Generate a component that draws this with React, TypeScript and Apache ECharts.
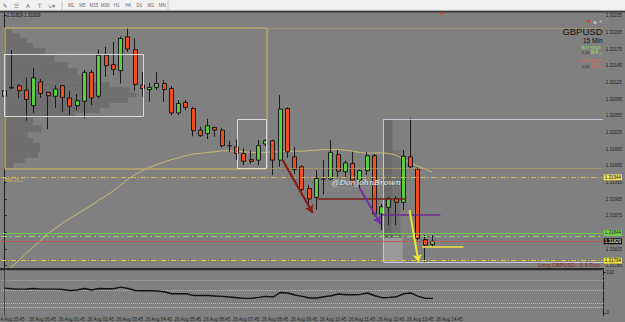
import React, { useEffect, useRef } from "react";
import * as echarts from "echarts";

const FONT = "'Liberation Sans', Arial, sans-serif";

// 15-minute bars of 26 Aug (00:00 .. 20:30; bars after 14:45 are chart shift)
const barTimes = [
  "00:00","00:15","00:30","00:45","01:00","01:15","01:30","01:45","02:00","02:15","02:30","02:45",
  "03:00","03:15","03:30","03:45","04:00","04:15","04:30","04:45","05:00","05:15","05:30","05:45",
  "06:00","06:15","06:30","06:45","07:00","07:15","07:30","07:45","08:00","08:15","08:30","08:45",
  "09:00","09:15","09:30","09:45","10:00","10:15","10:30","10:45","11:00","11:15","11:30","11:45",
  "12:00","12:15","12:30","12:45","13:00","13:15","13:30","13:45","14:00","14:15","14:30","14:45",
  "15:00","15:15","15:30","15:45","16:00","16:15","16:30","16:45","17:00","17:15","17:30","17:45",
  "18:00","18:15","18:30","18:45","19:00","19:15","19:30","19:45","20:00","20:15","20:30"
];
const timeLabels = ["00:45","01:45","02:45","03:45","04:45","05:45","06:45","07:45","08:45","09:45","10:45","11:45","12:45","13:45","14:45"];

const openP = [1.32090,1.32106,1.32109,1.32101,1.32073,1.32116,1.32097,1.32090,1.32109,1.32087,
1.32073,1.32081,1.32133,1.32090,1.32164,1.32147,1.32136,1.32197,1.32174,1.32110,
1.32102,1.32106,1.32113,1.32104,1.32060,1.32079,1.32068,1.32029,1.32023,1.32034,
1.32029,1.32001,1.31999,1.31987,1.31976,1.31975,1.32004,1.32010,1.31975,1.32068,
1.31981,1.31963,1.31924,1.31908,1.31941,1.31941,1.31985,1.31954,1.31969,1.31939,
1.31956,1.31983,1.31878,1.31890,1.31906,1.31899,1.31981,1.31959,1.31832,1.31823];
const closeP = [1.32100,1.32105,1.32100,1.32084,1.32123,1.32095,1.32091,1.32103,1.32088,1.32072,
1.32082,1.32133,1.32087,1.32164,1.32145,1.32138,1.32194,1.32175,1.32111,1.32104,
1.32106,1.32113,1.32102,1.32060,1.32077,1.32070,1.32028,1.32019,1.32037,1.32029,
1.32001,1.32001,1.31987,1.31973,1.31973,1.32001,1.32010,1.31975,1.32067,1.31990,
1.31958,1.31922,1.31905,1.31942,1.31941,1.31989,1.31955,1.31970,1.31939,1.31956,
1.31983,1.31878,1.31891,1.31906,1.31899,1.31982,1.31963,1.31834,1.31822,1.31829];
const lowP = [1.32088,1.32103,1.32087,1.32046,1.32060,1.32087,1.32031,1.32069,1.32062,1.32056,
1.32065,1.32050,1.32074,1.32086,1.32125,1.32128,1.32113,1.32170,1.32100,1.32089,
1.32080,1.32101,1.32080,1.32056,1.32056,1.32065,1.32018,1.32017,1.32013,1.32017,
1.31998,1.31990,1.31975,1.31966,1.31969,1.31966,1.32000,1.31948,1.31963,1.31979,
1.31950,1.31912,1.31894,1.31885,1.31913,1.31939,1.31945,1.31944,1.31930,1.31924,
1.31948,1.31874,1.31849,1.31858,1.31858,1.31885,1.31961,1.31831,1.31792,1.31819];
const highP = [1.32103,1.32173,1.32112,1.32124,1.32141,1.32121,1.32098,1.32110,1.32110,1.32099,
1.32094,1.32137,1.32137,1.32174,1.32179,1.32188,1.32198,1.32214,1.32194,1.32134,
1.32114,1.32134,1.32119,1.32108,1.32083,1.32083,1.32071,1.32035,1.32049,1.32035,
1.32033,1.32010,1.32012,1.31996,1.31992,1.32011,1.32013,1.32012,1.32092,1.32070,
1.31999,1.31966,1.31930,1.31957,1.31975,1.32011,1.31993,1.31974,1.31990,1.31958,
1.31990,1.31986,1.31896,1.31909,1.31910,1.31993,1.32051,1.31962,1.31840,1.31840];

const maP = [1.31772,1.31783,1.31795,1.31808,1.31819,1.31831,1.31843,1.31852,1.31862,1.31870,
1.31878,1.31886,1.31894,1.31903,1.31911,1.31920,1.31930,1.31941,1.31949,1.31956,
1.31962,1.31967,1.31972,1.31976,1.31979,1.31983,1.31986,1.31987,1.31989,1.31990,
1.31992,1.31992,1.31991,1.31990,1.31989,1.31989,1.31989,1.31990,1.31990,1.31991,
1.31991,1.31991,1.31992,1.31993,1.31994,1.31994,1.31994,1.31993,1.31991,1.31989,
1.31988,1.31988,1.31988,1.31987,1.31984,1.31977,1.31970,1.31964,1.31959,1.31953];

const oscV = [61.6,59.9,59.1,59.4,60.6,59.1,59.1,59.1,58.1,55.7,
56.7,60.6,56.7,60.6,59.9,59.9,64.0,60.6,55.7,54.9,
54.9,54.2,52.5,47.5,47.5,47.5,43.3,43.3,43.3,41.9,
40.9,39.4,37.7,36.0,36.0,38.4,40.9,39.4,50.7,49.3,
44.3,40.9,36.9,36.9,40.1,42.6,46.8,45.1,45.1,45.8,
49.3,42.6,37.7,38.4,40.1,47.5,49.3,40.9,36.0,36.0];

const priceTicks = [1.31785,1.31815,1.31845,1.31875,1.31905,1.31935,1.31965,1.31995,1.32025,1.32055,1.32085,1.32115,1.32145,1.32175,1.32205,1.32235];
const oscTicks = [0, 100];
const oscLevels = [90, 80, 57, 23, 13];

// session volume profile: [priceTop, priceBottom, widthInBars]
const sessionProfile = [
  [1.32213,1.32204,1.0],[1.32204,1.32195,2.1],[1.32195,1.32186,3.1],[1.32186,1.32177,3.9],
  [1.32177,1.32164,5.6],[1.32164,1.32151,6.9],[1.32151,1.32141,8.7],[1.32141,1.32128,10.1],
  [1.32128,1.32115,12.0],[1.32115,1.32106,14.5],[1.32106,1.32097,17.3],[1.32097,1.32088,18.2],
  [1.32088,1.32078,17.0],[1.32078,1.32069,14.5],[1.32069,1.32060,13.1],[1.32060,1.32052,9.7],
  [1.32052,1.32038,3.9],[1.32038,1.32025,5.1],[1.32025,1.32015,3.2],[1.32015,1.32006,3.9],
  [1.32006,1.31989,4.9],[1.31989,1.31979,4.6],[1.31979,1.31970,2.8],[1.31970,1.31961,1.2]
];
// range-box profile: [fromBar, toBar, priceTop, priceBottom]
const boxProfileDark = [[52.26,53.5,1.32049,1.31835]];
const boxProfileMid = [[53.5,54.6,1.31993,1.31835]];
const boxProfileLight = [[52.26,54.9,1.31835,1.31791]];

const session = { from: 0, to: 36.1, high: 1.32213, low: 1.31960 };
const valueArea1 = { from: 0, to: 19.1, top: 1.32166, bottom: 1.32054 };
const valueArea2 = { from: 32.1, to: 36.1, top: 1.32048, bottom: 1.31960 };
const rangeBox = { from: 52.26, top: 1.32049, bottom: 1.31791 };
const maroonLevel = { from: 43.2, to: 55.2, price: 1.31906 };
const purpleLevel = { from: 52.1, to: 60.1, price: 1.31876 };
const targetLevel = { from: 57.6, to: 63.3, price: 1.31819 };
const pivotPrice = 1.31944;
const askPrice = 1.31844;
const askBandPrice = 1.31838;
const bidPrice = 1.31829;
const lowLevelPrice = 1.31794;
const arrow1 = [[38.35, 1.31975], [42.5, 1.31880]];
const arrow2 = [[48.96, 1.31925], [51.85, 1.31860]];
const arrow3 = [[55.85, 1.31885], [57.1, 1.31791]];
const notes = [
  { name: "1", value: [43.2, 1.31883] },
  { name: "2", value: [49.2, 1.31867] },
  { name: "3", value: [55.3, 1.31804] },
  { name: "14.8", value: [60.9, 1.31822] },
];

const START = -0.5;
const END = 82.5;
const GREEN = "#5acd3c";
const RED = "#f24d1c";
const OLIVE = "#b9a96a";

function hseg(from: number, to: number, p: number, ls: any) {
  return [{ coord: [from, p], lineStyle: ls }, { coord: [to, p] }];
}
function vseg(x: number, p0: number, p1: number, ls: any) {
  return [{ coord: [x, p0], lineStyle: ls }, { coord: [x, p1] }];
}
function box(from: number, to: number, top: number, bottom: number, ls: any) {
  return [hseg(from, to, top, ls), hseg(from, to, bottom, ls), vseg(from, top, bottom, ls), vseg(to, top, bottom, ls)];
}
function arrow(pts: number[][], ls: any, size: number[]) {
  return [{ coord: pts[0], symbol: "none", lineStyle: ls }, { coord: pts[1], symbol: "arrow", symbolSize: size }];
}
function priceLine(p: number, ls: any, bg?: string, fg?: string) {
  return [
    {
      coord: [START, p],
      lineStyle: ls,
      label: bg
        ? { show: true, position: "end", distance: 1, formatter: () => p.toFixed(5), fontSize: 4.5, color: fg, backgroundColor: bg, padding: [1, 1, 0, 1], fontFamily: FONT }
        : { show: false },
    },
    { coord: [END, p] },
  ];
}
function rectRender(fill: string) {
  return (params: any, api: any) => {
    const a = api.coord([api.value(0), api.value(2)]);
    const b = api.coord([api.value(1), api.value(3)]);
    return { type: "rect", shape: { x: a[0], y: a[1], width: b[0] - a[0], height: b[1] - a[1] }, style: { fill } };
  };
}

export default function App() {
  const ref = useRef<HTMLDivElement>(null);
  useEffect(() => {
    if (!ref.current) return;
    const chart = echarts.init(ref.current, null, { renderer: "svg" });
    const candleData = openP.map((o, i) => [o, closeP[i], lowP[i], highP[i]]);
    const sessionRows = sessionProfile.map((r) => [session.from, session.from + r[2], r[0], r[1]]);
    const labelSet = new Set(timeLabels);
    const oscColors = ["#c86a5a", "#cf9f58", "#b8b8b8", "#a6d85a", "#a6d85a"];

    const oliveSolid = { color: OLIVE, width: 1.5, type: "solid" };
    const oliveDot = { color: OLIVE, width: 1, type: "dotted" };
    const white = { color: "#dadada", width: 1, type: "solid" };
    const steel = { color: "#c3c8d4", width: 1, type: "solid" };

    const overlayLines: any[] = [
      ...box(session.from, session.to, session.high, session.low, oliveSolid),
      hseg(session.to, END, session.high, oliveDot),
      hseg(session.to, END, session.low, oliveDot),
      ...box(valueArea1.from, valueArea1.to, valueArea1.top, valueArea1.bottom, white),
      ...box(valueArea2.from, valueArea2.to, valueArea2.top, valueArea2.bottom, white),
      hseg(rangeBox.from, END, rangeBox.top, steel),
      hseg(rangeBox.from, END, rangeBox.bottom, steel),
      vseg(rangeBox.from, rangeBox.top, rangeBox.bottom, steel),
      priceLine(pivotPrice, { color: "#d0b850", width: 1, type: [5, 2, 1, 2] }, "#f0e060", "#222"),
      priceLine(askPrice, { color: "#72cc4c", width: 1, type: "solid" }, "#78d04c", "#1a1a1a"),
      priceLine(askBandPrice, { color: "#8ee05a", width: 1, type: [6, 3, 2, 3] }),
      priceLine(bidPrice, { color: "#c85050", width: 0.8, type: "solid" }, "#111111", "#ffffff"),
      priceLine(lowLevelPrice, { color: "#e3c83c", width: 1, type: [5, 2, 1, 2] }, "#f0dc40", "#222"),
      hseg(maroonLevel.from, maroonLevel.to, maroonLevel.price, { color: "#7a1e1e", width: 1.5, type: "solid" }),
      hseg(purpleLevel.from, purpleLevel.to, purpleLevel.price, { color: "#6a2c8a", width: 1.5, type: "solid" }),
      hseg(targetLevel.from, targetLevel.to, targetLevel.price, { color: "#f0e040", width: 1.5, type: "solid" }),
      arrow(arrow1, { color: "#8b1c14", width: 2.2, type: "solid" }, [7, 8]),
      arrow(arrow2, { color: "#7030a0", width: 2, type: "solid" }, [7, 8]),
      arrow(arrow3, { color: "#f2e634", width: 2, type: "solid", curveness: 0.12 }, [7, 8]),
    ];

    const option: any = {
      animation: false,
      backgroundColor: "#808080",
      grid: [
        { left: 1, right: 21.5, top: 12.5, height: 255.5 },
        { left: 1, right: 21.5, top: 270.5, height: 45.5 },
      ],
      xAxis: [
        { type: "category", gridIndex: 0, data: barTimes, boundaryGap: true, axisLine: { show: false }, axisTick: { show: false }, axisLabel: { show: false }, splitLine: { show: false } },
        { type: "value", gridIndex: 0, min: START, max: END, show: false },
        {
          type: "category", gridIndex: 1, data: barTimes, boundaryGap: true, axisLine: { show: false }, axisTick: { show: false }, splitLine: { show: false },
          axisLabel: { interval: (i: number, v: string) => labelSet.has(v), formatter: (v: string) => "26 Aug " + v, fontSize: 4.5, color: "#1b1b1b", align: "left", padding: [0, 0, 0, 3], margin: 1.5, fontFamily: FONT },
        },
      ],
      yAxis: [
        {
          type: "value", gridIndex: 0, position: "right", min: 1.3178086, max: 1.3224076, scale: true,
          axisLine: { show: true, lineStyle: { color: "#1e1e1e", width: 1 } },
          axisTick: { show: true, length: 2, customValues: priceTicks, lineStyle: { color: "#1e1e1e" } },
          axisLabel: { customValues: priceTicks, formatter: (v: number) => v.toFixed(5), fontSize: 4.5, color: "#1e1e1e", margin: 3, fontFamily: FONT },
          splitLine: { show: false },
        },
        {
          type: "value", gridIndex: 1, position: "right", min: -6.65, max: 105.4,
          axisLine: { show: true, lineStyle: { color: "#1e1e1e", width: 1 } },
          axisTick: { show: true, length: 2, customValues: oscTicks, lineStyle: { color: "#1e1e1e" } },
          axisLabel: { customValues: oscTicks, fontSize: 4.5, color: "#1e1e1e", margin: 3, fontFamily: FONT },
          splitLine: { show: false },
        },
      ],
      series: [
        { type: "custom", name: "session profile", xAxisIndex: 1, yAxisIndex: 0, renderItem: rectRender("#6f6f6f"), data: sessionRows, encode: { x: [0, 1], y: [2, 3] }, z: 1, silent: true },
        { type: "custom", name: "box profile", xAxisIndex: 1, yAxisIndex: 0, renderItem: rectRender("#6a6a6a"), data: boxProfileDark, encode: { x: [0, 1], y: [2, 3] }, z: 1, silent: true },
        { type: "custom", name: "box profile 2", xAxisIndex: 1, yAxisIndex: 0, renderItem: rectRender("#737373"), data: boxProfileMid, encode: { x: [0, 1], y: [2, 3] }, z: 1, silent: true },
        { type: "custom", name: "box profile 3", xAxisIndex: 1, yAxisIndex: 0, renderItem: rectRender("#999999"), data: boxProfileLight, encode: { x: [0, 1], y: [2, 3] }, z: 1, silent: true },
        {
          type: "line", name: "MA", xAxisIndex: 0, yAxisIndex: 0, data: maP, showSymbol: false, symbol: "none", clip: true,
          lineStyle: { color: "#cbb878", width: 1 }, z: 3, silent: true,
        },
        {
          type: "candlestick", name: "GBPUSD", xAxisIndex: 0, yAxisIndex: 0, data: candleData, barWidth: 4.5, z: 5,
          itemStyle: { color: GREEN, color0: RED, borderColor: "#1a1a1a", borderColor0: "#1a1a1a", borderWidth: 1 },
          markLine: { silent: true, symbol: ["none", "none"], label: { show: false }, lineStyle: { type: "dotted", color: "#1a1a1a", width: 1 }, data: [{ xAxis: barTimes[0] }] },
        },
        {
          type: "line", name: "objects", xAxisIndex: 1, yAxisIndex: 0, data: [[-10, 1.32]], showSymbol: false, symbol: "none", z: 6,
          markLine: { silent: true, symbol: ["none", "none"], label: { show: false }, data: overlayLines, z: 6 },
        },
        {
          type: "scatter", name: "notes", xAxisIndex: 1, yAxisIndex: 0, symbolSize: 1, itemStyle: { opacity: 0 }, z: 7, silent: true,
          data: notes.map((n) => ({
            ...n,
            label: n.name.length > 1 ? { color: "#e8dc70", fontSize: 6 } : { color: "#f2f2f2", fontSize: 7 },
          })),
          label: { show: true, position: "inside", formatter: "{b}", fontFamily: FONT },
        },
        {
          type: "line", name: "oscillator", xAxisIndex: 2, yAxisIndex: 1, data: oscV, showSymbol: false, symbol: "none",
          lineStyle: { color: "#111111", width: 1.4 }, z: 5,
          markLine: {
            silent: true, symbol: ["none", "none"], label: { show: false },
            data: [
              ...oscLevels.map((v, k) => ({ yAxis: v, lineStyle: { color: oscColors[k], type: "dotted", width: 1 } })),
              { xAxis: barTimes[0], lineStyle: { color: "#1a1a1a", type: "dotted", width: 1 } },
            ],
          },
        },
      ],
      graphic: [
        { type: "rect", shape: { x: 0, y: 0, width: 625, height: 10.5 }, style: { fill: "#f1f1f1" }, z: 100, silent: true },
        { type: "rect", shape: { x: 0, y: 10.3, width: 625, height: 0.8 }, style: { fill: "#a8a8a8" }, z: 100, silent: true },
        { type: "rect", shape: { x: 0, y: 11.1, width: 625, height: 1.4 }, style: { fill: "#3a3a3a" }, z: 100, silent: true },
        { type: "line", shape: { x1: 62, y1: 1, x2: 62, y2: 10 }, style: { stroke: "#c4c4c4", lineWidth: 1 }, z: 100 },
        { type: "line", shape: { x1: 168, y1: 1, x2: 168, y2: 10 }, style: { stroke: "#c4c4c4", lineWidth: 1 }, z: 100 },
        ...["✎", "☰", "A", "T", "↘▾"].map((t, k) => ({
          type: "text", x: 5 + k * 11.5, y: 5.3, z: 101,
          style: { text: t, fill: "#777", fontSize: 6, fontFamily: "DejaVu Sans", align: "center", verticalAlign: "middle" },
        })),
        ...["M1", "M5", "M15", "M30", "H1", "H4", "D1", "W1", "MN"].map((t, k) => ({
          type: "text", x: 71 + k * 11.4, y: 5.5, z: 101,
          style: { text: t, fill: "#666", fontSize: 4.5, fontFamily: FONT, align: "center", verticalAlign: "middle" },
        })),
        { type: "rect", shape: { x: 0, y: 268, width: 604, height: 2.2 }, style: { fill: "#2a2a2a" }, z: 100, silent: true },
        { type: "text", x: 1, y: 15.5, z: 101, style: { text: "⇔ 1.31829 1.31829", fill: "#111", fontSize: 4.5, fontFamily: FONT, verticalAlign: "middle" } },
        { type: "text", x: 3, y: 180, z: 101, style: { text: "PBM 25.2", fill: "#d2bf5c", fontSize: 4.5, fontFamily: FONT, verticalAlign: "middle" } },
        { type: "text", x: 366, y: 182, z: 101, style: { text: "@DonJohnBrown", fill: "#f2f2f2", stroke: "#555", lineWidth: 0.4, fontSize: 8, fontStyle: "italic", fontFamily: "DejaVu Serif", align: "center", verticalAlign: "middle" } },
        { type: "text", x: 0.5, y: 319, z: 101, style: { text: "4 Aug 23:45", fill: "#1b1b1b", fontSize: 4.5, fontFamily: FONT, verticalAlign: "middle" } },
        { type: "polygon", shape: { points: [[439.8, 12.6], [444.2, 12.6], [442, 15.4]] }, style: { fill: "#e04020" }, z: 101 },
        { type: "text", x: 589, y: 21, z: 101, style: { text: "▼", fill: "#e03a20", fontSize: 4.5, fontFamily: "DejaVu Sans", align: "center", verticalAlign: "middle" } },
        { type: "text", x: 595, y: 21, z: 101, style: { text: "▲", fill: "#d8d8d8", fontSize: 4, fontFamily: "DejaVu Sans", align: "center", verticalAlign: "middle" } },
        { type: "text", x: 600.5, y: 21, z: 101, style: { text: "▼", fill: "#b0b0b0", fontSize: 4, fontFamily: "DejaVu Sans", align: "center", verticalAlign: "middle" } },
        { type: "text", x: 602.5, y: 31.5, z: 101, style: { text: "GBPUSD", fill: "#111", fontSize: 9.5, fontFamily: FONT, align: "right", verticalAlign: "middle" } },
        { type: "text", x: 602.5, y: 40.5, z: 101, style: { text: "15 Min", fill: "#111", fontSize: 6.5, fontFamily: FONT, align: "right", verticalAlign: "middle" } },
        { type: "text", x: 601, y: 47.5, z: 101, style: { text: "BUY PRICE", fill: "#9be070", fontSize: 3.6, fontFamily: FONT, align: "right", verticalAlign: "middle" } },
        { type: "text", x: 589.5, y: 52.5, z: 101, style: { text: "1.31", fill: "#222", fontSize: 4, fontFamily: FONT, align: "right", verticalAlign: "middle" } },
        { type: "text", x: 590.5, y: 51.8, z: 101, style: { text: "84", fill: "#8fdc5a", fontSize: 7, fontFamily: FONT, verticalAlign: "middle" } },
        { type: "text", x: 599.5, y: 53.5, z: 101, style: { text: "4", fill: "#8fdc5a", fontSize: 4, fontFamily: FONT, verticalAlign: "middle" } },
        { type: "text", x: 601, y: 61, z: 101, style: { text: "SELL PRICE", fill: "#f06040", fontSize: 3.6, fontFamily: FONT, align: "right", verticalAlign: "middle" } },
        { type: "text", x: 589.5, y: 66, z: 101, style: { text: "1.31", fill: "#222", fontSize: 4, fontFamily: FONT, align: "right", verticalAlign: "middle" } },
        { type: "text", x: 590.5, y: 65.3, z: 101, style: { text: "82", fill: "#f06040", fontSize: 7, fontFamily: FONT, verticalAlign: "middle" } },
        { type: "text", x: 599.5, y: 67, z: 101, style: { text: "9", fill: "#f06040", fontSize: 4, fontFamily: FONT, verticalAlign: "middle" } },
        { type: "text", x: 600, y: 265.3, z: 101, style: { text: "Long GBPUSD: -0.9 Pips", fill: "#8a2a22", fontSize: 5.5, fontFamily: FONT, align: "right", verticalAlign: "middle" } },
      ],
    };
    chart.setOption(option);
    return () => chart.dispose();
  }, []);
  return <div ref={ref} style={{ position: "fixed", left: 0, top: 0, width: 625, height: 322, background: "#808080" }} />;
}
